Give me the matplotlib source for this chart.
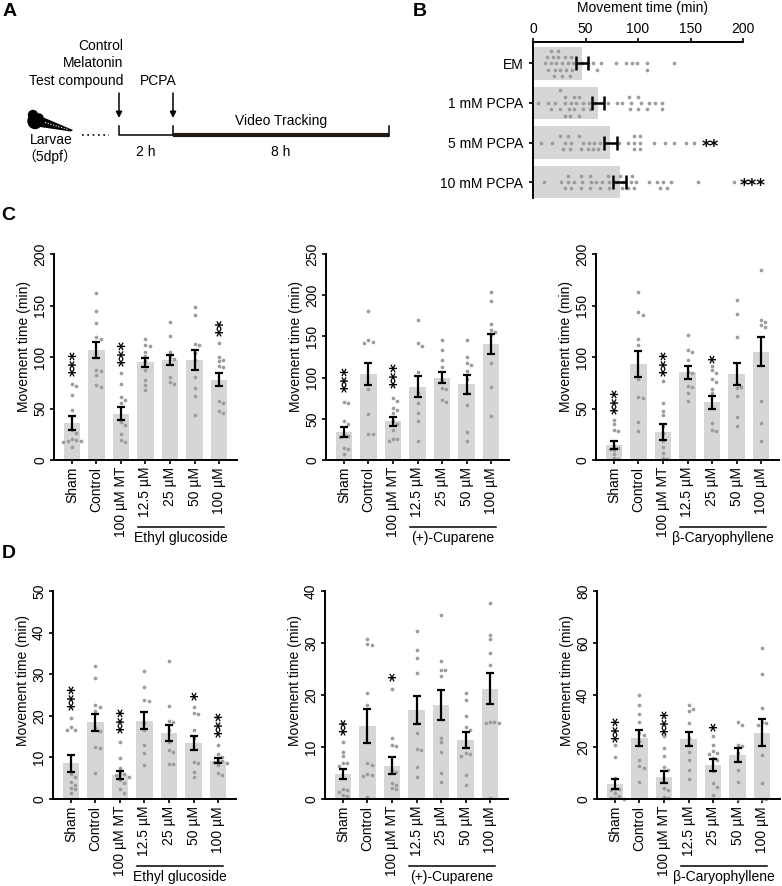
import numpy as np
import matplotlib
matplotlib.use('Agg')
import matplotlib.pyplot as plt
import matplotlib.transforms as mtransforms
from matplotlib.patches import Ellipse, Polygon, Circle

plt.rcParams['font.family'] = ['Liberation Sans', 'DejaVu Sans']
plt.rcParams['font.size'] = 10

# ---------------- data ----------------
B_categories = ['EM', '1 mM PCPA', '5 mM PCPA', '10 mM PCPA']
B_means = [47, 62, 73.5, 82.5]
B_sems = [5.6, 5.5, 6.3, 6.4]
B_dots_em = [28, 37, 13, 17, 21, 30, 33, 14, 19, 22, 26, 31, 35, 38, 47, 52, 57, 61, 65,
             79, 89, 94, 99, 109, 134, 11, 17, 24, 109, 20, 24, 28, 36]
B_dots_1 = [26, 30, 34, 39, 44, 48, 54, 100, 110, 5, 14, 17, 21, 26, 30, 35, 39, 44, 48,
            53, 58, 71, 80, 85, 91, 93, 109, 116, 123, 92, 103, 123, 30, 36, 41, 100]
B_dots_5 = [26, 35, 52, 57, 62, 96, 102, 8, 18, 30, 33, 44, 48, 53, 58, 64, 90, 96, 102,
            115, 126, 134, 146, 153, 29, 36, 46, 82, 96, 102]
B_dots_10 = [33, 47, 54, 60, 66, 71, 80, 86, 98, 128, 10, 27, 30, 33, 36, 39, 46, 55, 64,
             72, 83, 90, 93, 96, 110, 118, 124, 131, 157, 191, 46, 54, 72, 85, 94, 121]
B_stars = [(2, '**', 161), (3, '***', 197)]

groups = ['Sham', 'Control', '100 µM MT', '12.5 µM', '25 µM', '50 µM', '100 µM']

# C row
C1_means = [36, 107, 45, 95, 97, 97, 78]
C1_sems = [6.5, 8, 6.5, 4.5, 5, 10, 6.5]
C1_dots = [[74, 72, 63, 49, 29, 26, 20, 19, 18, 18, 17, 13],
           [162, 145, 133, 119, 117, 87, 86, 83, 73, 71],
           [84, 74, 61, 58, 55, 37, 34, 25, 19, 17],
           [117, 112, 111, 105, 101, 96, 87, 78, 73, 68],
           [134, 120, 105, 100, 98, 81, 76, 74],
           [149, 141, 113, 112, 104, 97, 81, 70, 62, 44],
           [114, 100, 97, 96, 91, 90, 57, 55, 48, 46]]
C1_stars = [(0, '***', 82), (2, '***', 91), (6, '**', 120)]

C2_means = [34, 104, 47, 89, 100, 92, 141]
C2_sems = [6, 13.5, 5.5, 12.5, 7, 11.5, 12]
C2_dots = [[70, 69, 47, 44, 30, 29, 28, 14, 13, 7],
           [181, 146, 143, 142, 86, 56, 32, 31],
           [75, 72, 63, 61, 57, 47, 44, 36, 26, 25, 23],
           [170, 142, 138, 107, 81, 69, 57, 47, 23],
           [146, 134, 121, 113, 97, 87, 86, 73, 70],
           [146, 125, 118, 115, 108, 98, 81, 67, 34, 23],
           [204, 193, 165, 158, 155, 152, 118, 88, 53]]
C2_stars = [(0, '***', 82), (2, '***', 87)]

C3_means = [14.6, 93, 27, 85, 56, 83.5, 105]
C3_sems = [4, 12.5, 7.5, 6, 6.5, 11, 14]
C3_dots = [[39, 35, 29, 28, 14, 12, 11, 10, 6, 2, 1],
           [163, 144, 141, 117, 112, 79, 61, 60, 37, 28],
           [77, 55, 48, 44, 33, 26, 18, 13, 7, 2, 1],
           [121, 107, 105, 97, 85, 84, 72, 71, 65, 57],
           [91, 87, 84, 79, 76, 69, 65, 36, 29, 28],
           [155, 142, 119, 74, 71, 70, 62, 42, 33],
           [184, 136, 134, 131, 129, 57, 36, 18]]
C3_stars = [(0, '***', 45), (2, '***', 82), (4, '*', 94)]

# D row
D1_means = [8.6, 18.4, 5.8, 18.8, 15.8, 13.4, 9.2]
D1_sems = [2, 2.1, 0.9, 2, 1.9, 1.7, 0.6]
D1_dots = [[19.4, 17.4, 16.6, 16.5, 5.9, 5.4, 4.2, 3.4, 2.6, 2.3, 1.4],
           [32, 29.2, 22.6, 22.2, 21.2, 17, 16.4, 12.6, 12.2, 6.3],
           [13.8, 9.8, 7.4, 6.3, 6.1, 5.8, 5.4, 4.6, 3.8, 2.3, 1.4],
           [30.7, 27, 23.8, 23.5, 18.2, 16.6, 13, 11, 8.2],
           [33.2, 22.3, 18.8, 18.6, 16.6, 13.8, 11.8, 11.4, 8.4, 8.3],
           [22, 20.7, 20.4, 16.6, 14.6, 9, 8.7, 6.6, 5.2],
           [13, 10.7, 10.2, 9.4, 9.2, 9, 8.7, 8.2, 6.3, 5.8]]
D1_stars = [(0, '***', 21.4), (2, '***', 15.8), (5, '*', 23.8), (6, '***', 15)]

D2_means = [4.8, 14.1, 6.4, 17.2, 18.1, 11.4, 21.2]
D2_sems = [1, 3.3, 1.6, 2.7, 2.9, 1.5, 3]
D2_dots = [[10.9, 9, 8.2, 7, 6.9, 6.4, 1.9, 1.7, 1.4, 0.8, 0.6],
           [30.8, 29.9, 29.7, 20.3, 18.1, 6.9, 6.6, 4.8, 4.6, 4.4, 0.3],
           [21.2, 11.8, 10.4, 10.1, 5.6, 5.2, 3, 2.7, 2.2, 1.9],
           [32.3, 28.7, 27.1, 24.2, 14.6, 12.7, 9.6, 9.5, 6.1, 4.3],
           [35.4, 26.5, 24.9, 24.8, 23.7, 11.7, 10.9, 9.1, 5, 3.3],
           [20.3, 19.1, 16, 13.8, 13.3, 8.8, 8.7, 8.2, 4.6, 2.7],
           [37.6, 31.6, 30.8, 28.1, 25.7, 14.9, 14.8, 14.7, 14.6, 0.1]]
D2_stars = [(0, '**', 12.3), (2, '*', 22.6)]

D3_means = [5.7, 23.5, 8.3, 23.1, 12.9, 17.1, 25.5]
D3_sems = [2, 3.1, 2.3, 2.7, 2.3, 2.7, 5.2]
D3_dots = [[20.9, 16, 8, 4, 3.9, 3.5, 2.2, 1, 0.5, 0.3, 0.1],
           [40, 36, 32.6, 29.5, 25.5, 24.8, 22.2, 15.1, 12.8, 11.9, 6.7],
           [24.2, 19.6, 16.4, 12.5, 11.2, 4.1, 3.5, 0.9, 0.3],
           [36.2, 34.8, 33.9, 29.3, 23.5, 20.9, 18.1, 14.9, 11.2, 7.6],
           [24.2, 20.9, 18.3, 17.7, 17.5, 15.8, 15.1, 10.6, 6.1, 4.8, 1.6],
           [29.7, 28.3, 20.9, 20.5, 17.7, 14.5, 11.2, 6.7, 0],
           [58.1, 48.1, 35.1, 29.6, 29.3, 28.3, 17.1, 6.1, 0, 0]]
D3_stars = [(0, '***', 22), (2, '***', 24.8), (4, '*', 26)]

compounds = ['Ethyl glucoside', '(+)-Cuparene', 'β-Caryophyllene']

# ---------------- style ----------------
BAR = '#d6d6d6'
DOT = '#9c9c9c'
STAR_FONT = dict(family='DejaVu Sans', fontsize=12, fontweight='bold')
W, H = 782, 886
fig = plt.figure(figsize=(W / 100, H / 100), dpi=100)


def px_axes(x0, y0, x1, y1):
    return fig.add_axes([x0 / W, 1 - y1 / H, (x1 - x0) / W, (y1 - y0) / H])


def swarm_offsets(values, px_per_unit, step_px, min_px, spacing_px):
    values = np.asarray(values, float)
    placed = {}
    offs = np.zeros(len(values))
    cands = [0]
    for j in range(1, 30):
        cands += [j, -j]
    for i in np.argsort(-values, kind='stable'):
        p = values[i] * px_per_unit
        for k in cands:
            if all(abs(p - q) >= min_px for q in placed.get(k, [])):
                placed.setdefault(k, []).append(p)
                offs[i] = k * step_px / spacing_px
                break
    return offs


def style_axes(ax):
    for s in ['top', 'right']:
        ax.spines[s].set_visible(False)
    for s in ['left', 'bottom']:
        ax.spines[s].set_linewidth(1.4)
    ax.tick_params(length=3, width=1.2, direction='out', pad=2, labelsize=10)


XL = (-0.73, 6.73)


def bar_panel(rect, means, sems, dots, ymax, ystep, compound, stars, ylab_y):
    ax = px_axes(*rect)
    w_px = rect[2] - rect[0]
    h_px = rect[3] - rect[1]
    x = np.arange(len(means))
    ax.bar(x, means, width=0.66, color=BAR, zorder=1)
    ppu = h_px / ymax
    spacing = w_px / (XL[1] - XL[0])
    for i, vals in enumerate(dots):
        offs = swarm_offsets(vals, ppu, 4.4, 3.8, spacing)
        ax.scatter(i + offs, vals, s=7, color=DOT, linewidths=0, zorder=2, clip_on=False)
    ax.errorbar(x, means, yerr=sems, fmt='none', ecolor='black', elinewidth=1.6,
                capsize=3, capthick=1.6, zorder=3)
    ax.set_xlim(*XL)
    ax.set_ylim(0, ymax)
    ax.set_yticks(np.arange(0, ymax + 0.1, ystep))
    ax.set_xticks(x)
    ax.set_xticklabels(groups, rotation=90)
    style_axes(ax)
    ax.tick_params(axis='y', labelrotation=90)
    plt.setp(ax.get_yticklabels(), va='center')
    ax.set_ylabel('Movement time (min)', fontsize=10)
    ax.yaxis.set_label_coords(-0.125, ylab_y)
    for idx, txt, yb in stars:
        ax.text(idx + 0.2, yb, txt, rotation=90, ha='center', va='bottom', **STAR_FONT)
    trans = mtransforms.blended_transform_factory(ax.transData, ax.transAxes)
    ly = -67 / h_px
    ax.plot([2.7, 6.2], [ly, ly], color='black', lw=1.1, transform=trans, clip_on=False)
    ax.text(4.45, ly - 4 / h_px, compound, transform=trans, ha='center', va='top', fontsize=10)
    return ax


# C row
bar_panel((54, 254, 237, 460), C1_means, C1_sems, C1_dots, 200, 50, compounds[0], C1_stars, 0.55)
bar_panel((326, 254, 509, 460), C2_means, C2_sems, C2_dots, 250, 50, compounds[1], C2_stars, 0.55)
bar_panel((596, 254, 779, 460), C3_means, C3_sems, C3_dots, 200, 50, compounds[2], C3_stars, 0.55)
# D row
bar_panel((53, 591, 236, 799), D1_means, D1_sems, D1_dots, 50, 10, compounds[0], D1_stars, 0.57)
bar_panel((325, 591, 508, 799), D2_means, D2_sems, D2_dots, 40, 10, compounds[1], D2_stars, 0.57)
bar_panel((597, 591, 780, 799), D3_means, D3_sems, D3_dots, 80, 20, compounds[2], D3_stars, 0.57)

# B panel
axB = px_axes(533, 42, 743, 198)
yB = np.arange(len(B_categories))
axB.barh(yB, B_means, height=0.83, color=BAR, zorder=1)
YL = (3.4, -0.54)
ppuB = 210 / 200
spB = 156 / (YL[0] - YL[1])
for i, vals in enumerate([B_dots_em, B_dots_1, B_dots_5, B_dots_10]):
    offs = swarm_offsets(vals, ppuB, 6.3, 4.6, spB)
    axB.scatter(vals, i + offs, s=7, color=DOT, linewidths=0, zorder=2, clip_on=False)
axB.errorbar(B_means, yB, xerr=B_sems, fmt='none', ecolor='black', elinewidth=1.8,
             capsize=5, capthick=1.8, zorder=3)
axB.set_xlim(0, 200)
axB.set_ylim(*YL)
axB.set_yticks(yB)
axB.set_yticklabels(B_categories)
axB.set_xticks([0, 50, 100, 150, 200])
axB.xaxis.tick_top()
axB.xaxis.set_label_position('top')
for s in ['bottom', 'right']:
    axB.spines[s].set_visible(False)
for s in ['top', 'left']:
    axB.spines[s].set_linewidth(1.4)
axB.tick_params(length=3, width=1.2, direction='out', labelsize=10)
axB.tick_params(axis='y', pad=4)
axB.tick_params(axis='x', pad=1.5)
axB.set_xlabel('Movement time (min)', fontsize=10)
axB.xaxis.set_label_coords(0.52, 1.19)
for idx, txt, xs in B_stars:
    axB.text(xs, idx + 0.1, txt, ha='left', va='center', clip_on=False, **STAR_FONT)

# overlay for schematic and panel letters
ov = fig.add_axes([0, 0, 1, 1])
ov.set_xlim(0, W)
ov.set_ylim(H, 0)
ov.axis('off')
for t, (x, y) in zip('ABCD', [(9.5, 11.5), (420, 11), (8.5, 215), (8.5, 554)]):
    ov.text(x, y, t, fontsize=14, fontweight='bold', ha='center', va='center')

ov.text(123, 46, 'Control', ha='right', va='center')
ov.text(123, 63, 'Melatonin', ha='right', va='center')
ov.text(123, 81, 'Test compound', ha='right', va='center')
ov.text(158, 81, 'PCPA', ha='center', va='center')
for xa in (119, 173):
    ov.annotate('', xy=(xa, 118), xytext=(xa, 93),
                arrowprops=dict(arrowstyle='-|>', color='black', lw=1.1, mutation_scale=9,
                                shrinkA=0, shrinkB=0))
ov.plot([119, 119, 173], [126, 135, 135], color='black', lw=1.1)
ov.plot([173, 173], [126, 135], color='black', lw=1.1)
ov.plot([173, 389], [135, 135], color='#231815', lw=3, solid_capstyle='butt')
ov.plot([389, 389], [126, 136], color='black', lw=1.1)
ov.text(281, 121, 'Video Tracking', ha='center', va='center')
ov.text(146, 152, '2 h', ha='center', va='center')
ov.text(281, 152, '8 h', ha='center', va='center')
ov.plot([82, 109], [135, 135], color='black', lw=1.2, ls=(0, (1, 2.2)))
ov.text(51, 140, 'Larvae', ha='center', va='center')
ov.text(50, 157, '（5dpf）', ha='center', va='center',
        family=['Liberation Sans', 'Noto Sans CJK SC'])
# larva icon
ov.add_patch(Polygon([(40, 116), (73, 130), (71, 131.5), (40, 127)], closed=True,
                     color='black', lw=0))
ov.add_patch(Ellipse((35, 121), 14, 15, color='black'))
ov.add_patch(Circle((33, 115), 4.5, color='black'))
ov.add_patch(Circle((39, 118), 4, color='black'))
ov.plot([45, 68], [122.5, 129.5], color='white', lw=0.8, ls=(0, (1, 1.5)))

fig.savefig('out.png', dpi=100)
